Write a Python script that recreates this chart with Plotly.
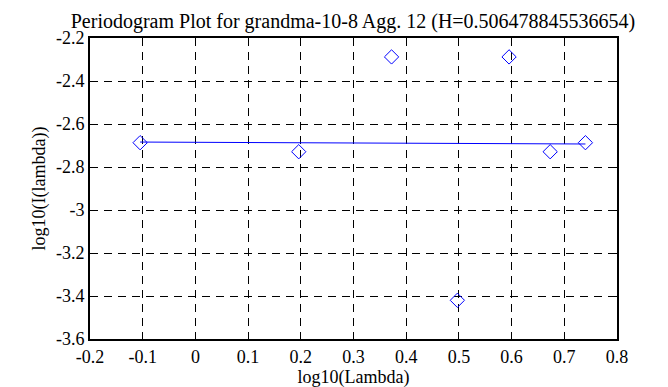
import plotly.graph_objects as go

# Data
log_lambda = [-0.1049, 0.1961, 0.3722, 0.4971, 0.5952, 0.6732, 0.7401]
log_I = [-2.687, -2.729, -2.288, -3.420, -2.288, -2.729, -2.687]
fit_x = [-0.1049, 0.7401]
fit_y = [-2.684, -2.693]

x_ticks = [-0.2, -0.1, 0, 0.1, 0.2, 0.3, 0.4, 0.5, 0.6, 0.7, 0.8]
x_tick_text = ["-0.2", "-0.1", "0", "0.1", "0.2", "0.3", "0.4", "0.5", "0.6", "0.7", "0.8"]
y_ticks = [-2.2, -2.4, -2.6, -2.8, -3.0, -3.2, -3.4, -3.6]
y_tick_text = ["-2.2", "-2.4", "-2.6", "-2.8", "-3", "-3.2", "-3.4", "-3.6"]

title = "Periodogram Plot for grandma-10-8 Agg. 12 (H=0.506478845536654)"

FAMILY = "Liberation Serif, Times New Roman, serif"
font = dict(family=FAMILY, size=18, color="black")

fig = go.Figure()
fig.add_trace(go.Scatter(
    x=fit_x, y=fit_y, mode="lines",
    line=dict(color="#0000ff", width=1),
    showlegend=False, hoverinfo="skip",
))
fig.add_trace(go.Scatter(
    x=log_lambda, y=log_I, mode="markers",
    marker=dict(symbol="diamond-open", size=11, color="#0000ff",
                line=dict(color="#0000ff", width=1)),
    showlegend=False,
))

axis_common = dict(
    showline=True, linecolor="black", linewidth=2, mirror="ticks",
    ticks="inside", ticklen=6, tickcolor="black", tickwidth=1,
    showgrid=True, gridcolor="black", gridwidth=1, griddash="8px,6px",
    zeroline=False, tickfont=font,
)

fig.update_layout(
    width=668, height=387,
    margin=dict(l=82, r=59, t=30, b=56),
    paper_bgcolor="white", plot_bgcolor="white",
    font=font,
    title=dict(text=title, x=0.5165, xanchor="center", y=0.985, yanchor="top",
               font=dict(family=FAMILY, size=20, color="black")),
    xaxis=dict(range=[-0.2, 0.8], tickvals=x_ticks, ticktext=x_tick_text,
               title=dict(text="log10(Lambda)", font=font, standoff=2),
               **axis_common),
    yaxis=dict(range=[-3.6, -2.2], tickvals=y_ticks, ticktext=y_tick_text,
               title=dict(text="log10(I(lambda))", font=font, standoff=6),
               **axis_common),
)

fig.write_html("out.html")
